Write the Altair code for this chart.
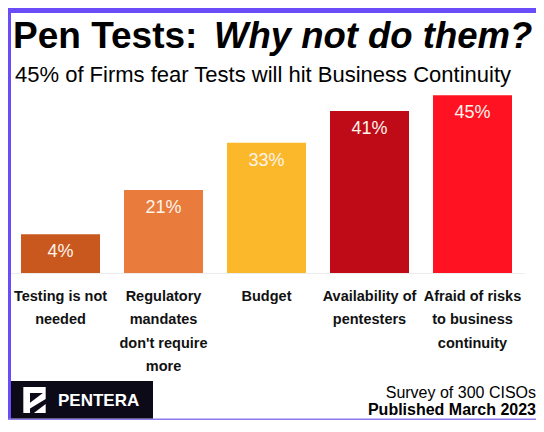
import altair as alt
import pandas as pd

# ---- data ----
categories = [
    "Testing is not|needed",
    "Regulatory|mandates|don't require|more",
    "Budget",
    "Availability of|pentesters",
    "Afraid of risks|to business|continuity",
]
values = [4, 21, 33, 41, 45]            # printed labels (%)
drawn_heights = [9.8, 21, 33, 41, 45]   # bar heights as drawn (the 4% bar is drawn taller)
bar_colors = ["#C9581F", "#E97B3D", "#FBB82A", "#BF0A18", "#FF1222"]

title_left = "Pen Tests:"
title_right = "Why not do them?"
subtitle = "45% of Firms fear Tests will hit Business Continuity"
footer_1 = "Survey of 300 CISOs"
footer_2 = "Published March 2023"
brand = "PENTERA"

PURPLE = "#6A4DF8"
DARK = "#0B0A16"
SANS = "Liberation Sans, Arial, Helvetica"

W, H = 528, 412  # whole svg, so the page does not overflow the window

df = pd.DataFrame({
    "cat": categories,
    "h": drawn_heights,
    "label": [f"{v}%" for v in values],
})

one = alt.Data(values=[{"k": 1}])

xenc = alt.X(
    "cat:N", sort=None,
    scale=alt.Scale(paddingInner=0.233, paddingOuter=0.1165),
    axis=alt.Axis(
        title=None, labelAngle=0, labelExpr="split(datum.label, '|')",
        labelFont=SANS, labelFontSize=14.5, labelFontWeight="bold",
        labelColor="#111111", labelLineHeight=23.5, labelPadding=16,
        labelBaseline="top", ticks=False, domainColor="#ececec",
        labelLimit=200,
    ),
)
yenc = alt.Y("h:Q", scale=alt.Scale(domain=[0, 67.1], nice=False), axis=None)

bars = alt.Chart(df).mark_bar().encode(
    x=xenc, y=yenc,
    color=alt.Color("cat:N", sort=None,
                    scale=alt.Scale(domain=categories, range=bar_colors),
                    legend=None),
)
bar_text = alt.Chart(df).mark_text(
    dy=18, baseline="middle", font=SANS, fontSize=18, color="#FFF4EA"
).encode(x=alt.X("cat:N", sort=None), y="h:Q", text="label:N")

def rect(x, x2, y, y2, color):
    return alt.Chart(one).mark_rect(color=color).encode(
        x=alt.value(x), x2=alt.value(x2), y=alt.value(y), y2=alt.value(y2))

def txt(s, x, y, size, weight="normal", style="normal", align="left", color="#000000"):
    return alt.Chart(one).mark_text(
        text=s, align=align, baseline="alphabetic", fontSize=size,
        fontWeight=weight, fontStyle=style, font=SANS, color=color,
    ).encode(x=alt.value(x), y=alt.value(y))

def glyph(path, x, y, size, color):
    return alt.Chart(one).mark_point(
        shape=path, filled=True, color=color, opacity=1, size=size, strokeWidth=0
    ).encode(x=alt.value(x), y=alt.value(y))

top_border = rect(-1, W, 0, 5, PURPLE)
left_border = rect(-1, 2, 0, H, PURPLE)
bottom_border = rect(-1, W, H - 1.5, H, "#8C7CF0")
brand_box = rect(2, 144, 373, H - 1.5, DARK)

LX, LY = 25.5, 392
logo = [
    glyph("M-1,-1.17 L1,-1.17 L1,-0.1 L-0.4,0.75 L-0.4,1.17 L-1,1.17 Z", LX, LY, 500, "#FFFFFF"),
    glyph("M-0.4,-0.62 L0.75,-0.62 L-0.4,0.25 Z", LX, LY, 500, DARK),
    glyph("M-0.05,1.17 L1,0.35 L1,1.17 Z", LX, LY, 500, "#FFFFFF"),
]

layers = [
    top_border, left_border, bottom_border, brand_box,
    bars, bar_text,
    txt(title_left, 4, 40, 37, weight="bold"),
    txt(title_right, 205, 40, 36.5, weight="bold", style="italic"),
    txt(subtitle, 254, 74, 22, align="center"),
    txt(footer_1, W - 1, 390, 16, align="right"),
    txt(footer_2, W - 1, 407, 16, weight="bold", align="right"),
    *logo,
    txt(brand, 49, 398, 17, weight="bold", color="#FFFFFF"),
]

chart = alt.layer(*layers).properties(
    width=515, height=265,
    padding={"left": 1, "top": 0, "right": W - 516, "bottom": H - 265},
    autosize=alt.AutoSizeParams(type="none"),
    background="#FFFFFF",
).configure_view(strokeWidth=0)

chart.save("out.html", embed_options={"renderer": "svg", "actions": False})
